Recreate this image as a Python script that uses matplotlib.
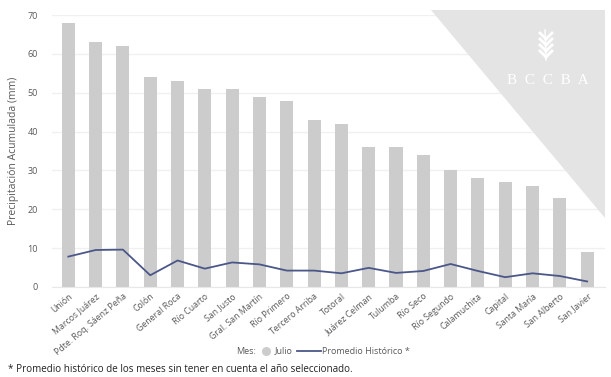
import matplotlib.pyplot as plt
from matplotlib.lines import Line2D
from matplotlib.patches import Polygon

plt.rcParams['font.family'] = ['Open Sans', 'DejaVu Sans']

departamentos = ["Unión", "Marcos Juárez", "Pdte. Roq. Sáenz Peña", "Colón", "General Roca",
                 "Río Cuarto", "San Justo", "Gral. San Martín", "Río Primero", "Tercero Arriba",
                 "Totoral", "Juárez Celman", "Tulumba", "Río Seco", "Río Segundo",
                 "Calamuchita", "Capital", "Santa María", "San Alberto", "San Javier"]
julio = [68, 63, 62, 54, 53, 51, 51, 49, 48, 43, 42, 36, 36, 34, 30, 28, 27, 26, 23, 9]
promedio = [7.8, 9.5, 9.6, 3.0, 6.8, 4.7, 6.3, 5.8, 4.2, 4.2,
            3.5, 4.9, 3.6, 4.1, 5.9, 4.1, 2.5, 3.5, 2.8, 1.4]

bar_color = '#cccccc'
line_color = '#4b5789'
txt_color = '#595959'

W, H = 611, 377


def fx(px):
    return px / W


def fy(py):
    return 1 - py / H


fig = plt.figure(figsize=(6.11, 3.77), dpi=100)
ax = fig.add_axes([0.085, 0.239, 0.905, 0.721])

x = range(len(departamentos))

# marca de agua (triangulo BCCBA)
tri = Polygon([(fx(431), fy(10)), (fx(605), fy(10)), (fx(605), fy(218))],
              closed=True, transform=fig.transFigure, facecolor='#e4e4e4', edgecolor='none',
              zorder=1, clip_on=False)
ax.add_patch(tri)
ax.text(fx(548), fy(80), "B  C  C  B  A", transform=fig.transFigure, ha='center', va='center',
        fontsize=11, color='white', family=['Liberation Serif'], zorder=1.5)
# espiga
ax.plot([fx(546), fx(545)], [fy(60), fy(30)], transform=fig.transFigure,
        color='white', lw=1, zorder=1.5)
for k in range(4):
    yy = fy(57 - k * 6)
    ax.plot([fx(546), fx(540)], [yy, yy + 6 / H], transform=fig.transFigure, color='white', lw=2, zorder=1.5)
    ax.plot([fx(546), fx(552)], [yy, yy + 6 / H], transform=fig.transFigure, color='white', lw=2, zorder=1.5)

ax.bar(x, julio, width=0.48, color=bar_color, zorder=2)
ax.plot(x, promedio, color=line_color, lw=1.3, zorder=3)

ax.set_ylim(0, 70)
ax.set_xlim(-0.6, 19.65)
ax.set_yticks(range(0, 71, 10))
ax.yaxis.grid(True, color='#f0f0f0', lw=1, zorder=0)
ax.set_axisbelow(True)
for s in ['top', 'right', 'left']:
    ax.spines[s].set_visible(False)
ax.spines['bottom'].set_color('#e8e8e8')
ax.tick_params(axis='both', length=0, labelsize=6.5, colors=txt_color)
ax.tick_params(axis='y', pad=10)
ax.set_xticks(list(x))
ax.set_xticklabels(departamentos, rotation=40, ha='right', rotation_mode='anchor', fontsize=6.3)
ax.set_ylabel("Precipitación Acumulada (mm)", fontsize=7.5, color=txt_color, labelpad=6)

# leyenda
ly = fy(351)
fig.text(fx(236), ly, "Mes:", fontsize=6.5, color=txt_color, va='center')
fig.add_artist(Line2D([fx(266)], [ly], marker='o', ls='none', color=bar_color, markersize=5.5,
                      transform=fig.transFigure))
fig.text(fx(275), ly, "Julio", fontsize=6.5, color=txt_color, va='center')
fig.add_artist(Line2D([fx(297), fx(321)], [ly, ly], color=line_color, lw=1.3,
                      transform=fig.transFigure))
fig.text(fx(322), ly, "Promedio Histórico *", fontsize=6.5, color=txt_color, va='center')

fig.text(fx(8), fy(369), "* Promedio histórico de los meses sin tener en cuenta el año seleccionado.",
         fontsize=7.1, color='#222222', va='center')

fig.savefig("out.png", dpi=100)
